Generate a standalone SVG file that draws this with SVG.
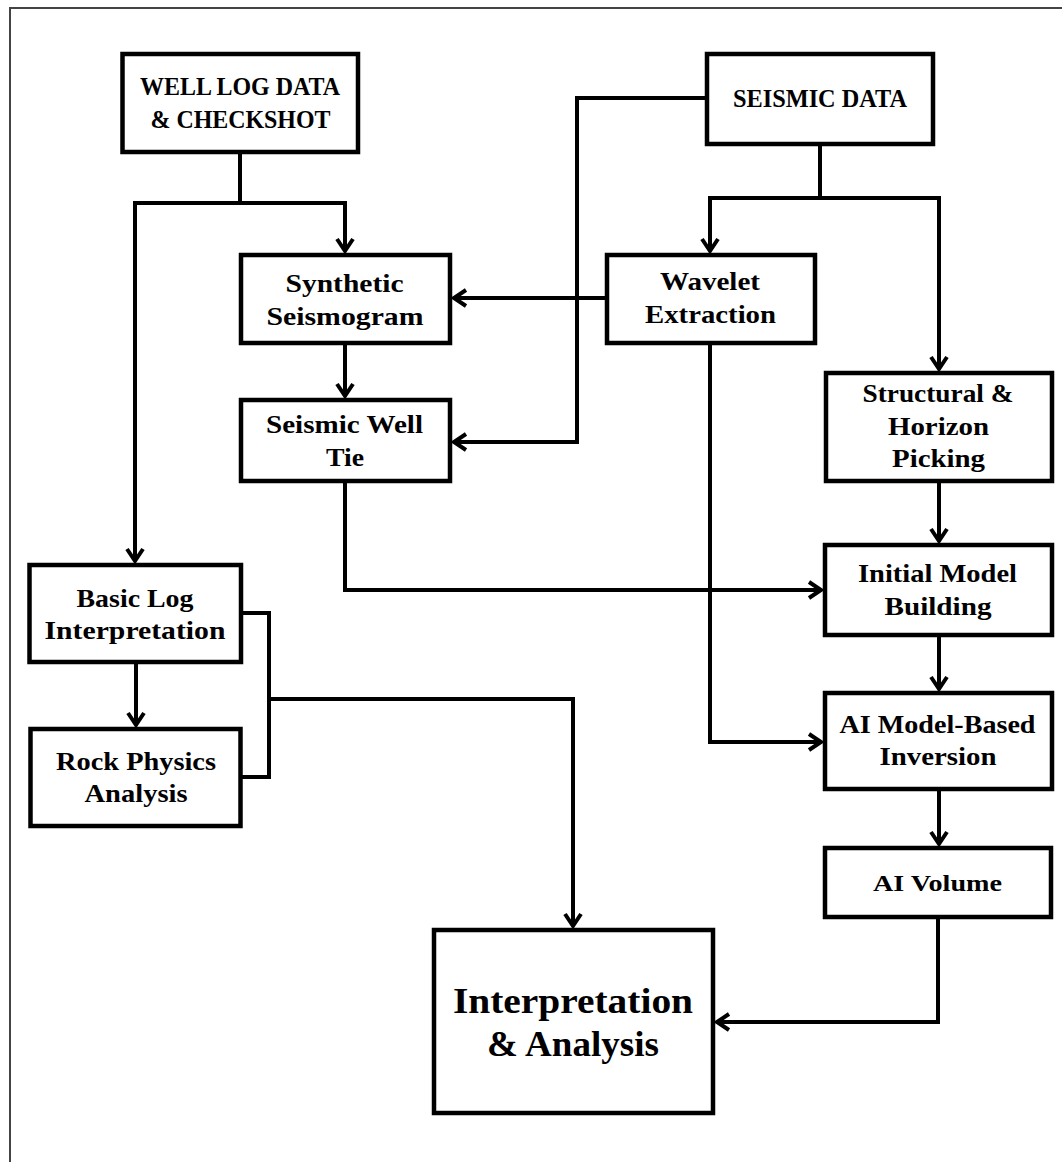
<svg xmlns="http://www.w3.org/2000/svg" width="1062" height="1162" viewBox="0 0 1062 1162">
<style>
.box{fill:#fff;stroke:#000;stroke-width:4.5}
.t{font-family:"Liberation Serif","Times New Roman",serif;font-weight:bold;font-size:26px;fill:#000;text-anchor:middle}
.big{font-size:35px}
.c{fill:none;stroke:#000;stroke-width:4;stroke-linejoin:miter}
</style>
<defs>
<marker id="ah" markerUnits="userSpaceOnUse" markerWidth="30" markerHeight="30" refX="0" refY="0" orient="auto" overflow="visible">
<path d="M-12,-8 L0,0 L-12,8" fill="none" stroke="#000" stroke-width="4"/>
</marker>
</defs>
<rect width="1062" height="1162" fill="#fff"/>
<path d="M10,1162 V8 H1062" fill="none" stroke="#444" stroke-width="2"/>

<g id="connectors">
<path class="c" d="M240,154 V203 H135 V561" marker-end="url(#ah)"/>
<path class="c" d="M240,203 H345 V251" marker-end="url(#ah)"/>
<path class="c" d="M345,345 V396" marker-end="url(#ah)"/>
<path class="c" d="M705,98 H577 V442 H454" marker-end="url(#ah)"/>
<path class="c" d="M820,146 V198 H710 V251" marker-end="url(#ah)"/>
<path class="c" d="M820,198 H939 V369" marker-end="url(#ah)"/>
<path class="c" d="M605,298 H454" marker-end="url(#ah)"/>
<path class="c" d="M710,345 V742 H821" marker-end="url(#ah)"/>
<path class="c" d="M345,483 V590 H821" marker-end="url(#ah)"/>
<path class="c" d="M939,482 V541" marker-end="url(#ah)"/>
<path class="c" d="M939,637 V689" marker-end="url(#ah)"/>
<path class="c" d="M939,791 V844" marker-end="url(#ah)"/>
<path class="c" d="M938,919 V1022 H717" marker-end="url(#ah)"/>
<path class="c" d="M136,664 V725" marker-end="url(#ah)"/>
<path class="c" d="M243,613 H269 V777 H241"/>
<path class="c" d="M269,699 H573 V926" marker-end="url(#ah)"/>
</g>

<g id="well-log">
<rect class="box" x="122.5" y="54" width="235.5" height="98"/>
<text class="t" x="240" y="95" textLength="200" lengthAdjust="spacingAndGlyphs">WELL LOG DATA</text>
<text class="t" x="240.5" y="128" textLength="180" lengthAdjust="spacingAndGlyphs">&amp; CHECKSHOT</text>
</g>
<g id="seismic-data">
<rect class="box" x="707" y="54" width="226" height="90"/>
<text class="t" x="820" y="107" textLength="174" lengthAdjust="spacingAndGlyphs">SEISMIC DATA</text>
</g>
<g id="synthetic">
<rect class="box" x="241" y="255" width="209" height="88"/>
<text class="t" x="344.5" y="292" textLength="118" lengthAdjust="spacingAndGlyphs">Synthetic</text>
<text class="t" x="345" y="325" textLength="157" lengthAdjust="spacingAndGlyphs">Seismogram</text>
</g>
<g id="wavelet">
<rect class="box" x="607" y="255" width="208" height="88"/>
<text class="t" x="710" y="290" textLength="100" lengthAdjust="spacingAndGlyphs">Wavelet</text>
<text class="t" x="710.5" y="323" textLength="131" lengthAdjust="spacingAndGlyphs">Extraction</text>
</g>
<g id="well-tie">
<rect class="box" x="241" y="400" width="209" height="81"/>
<text class="t" x="344.5" y="433" textLength="157" lengthAdjust="spacingAndGlyphs">Seismic Well</text>
<text class="t" x="345" y="466" textLength="38" lengthAdjust="spacingAndGlyphs">Tie</text>
</g>
<g id="structural">
<rect class="box" x="826" y="373" width="226" height="108"/>
<text class="t" x="938" y="402" textLength="151" lengthAdjust="spacingAndGlyphs">Structural &amp;</text>
<text class="t" x="938.5" y="435" textLength="101" lengthAdjust="spacingAndGlyphs">Horizon</text>
<text class="t" x="938.5" y="467" textLength="93" lengthAdjust="spacingAndGlyphs">Picking</text>
</g>
<g id="basic-log">
<rect class="box" x="29.5" y="565" width="211.5" height="97"/>
<text class="t" x="135" y="607" textLength="117" lengthAdjust="spacingAndGlyphs">Basic Log</text>
<text class="t" x="135" y="639" textLength="181" lengthAdjust="spacingAndGlyphs">Interpretation</text>
</g>
<g id="rock-physics">
<rect class="box" x="30.5" y="729" width="210" height="97"/>
<text class="t" x="136" y="770" textLength="160" lengthAdjust="spacingAndGlyphs">Rock Physics</text>
<text class="t" x="136" y="802" textLength="103" lengthAdjust="spacingAndGlyphs">Analysis</text>
</g>
<g id="initial-model">
<rect class="box" x="825" y="545" width="227" height="90"/>
<text class="t" x="937.5" y="582" textLength="159" lengthAdjust="spacingAndGlyphs">Initial Model</text>
<text class="t" x="938" y="615" textLength="107" lengthAdjust="spacingAndGlyphs">Building</text>
</g>
<g id="ai-inversion">
<rect class="box" x="825" y="693" width="227" height="96"/>
<text class="t" x="937.5" y="733" textLength="196" lengthAdjust="spacingAndGlyphs">AI Model-Based</text>
<text class="t" x="938" y="765" textLength="117" lengthAdjust="spacingAndGlyphs">Inversion</text>
</g>
<g id="ai-volume">
<rect class="box" x="825" y="848" width="226" height="69"/>
<text class="t" x="937.5" y="891" style="font-size:24px" textLength="129" lengthAdjust="spacingAndGlyphs">AI Volume</text>
</g>
<g id="interpretation">
<rect class="box" x="434" y="930" width="279" height="183"/>
<text class="t big" x="573" y="1013" textLength="240" lengthAdjust="spacingAndGlyphs">Interpretation</text>
<text class="t big" x="573" y="1056" textLength="172" lengthAdjust="spacingAndGlyphs">&amp; Analysis</text>
</g>
</svg>
